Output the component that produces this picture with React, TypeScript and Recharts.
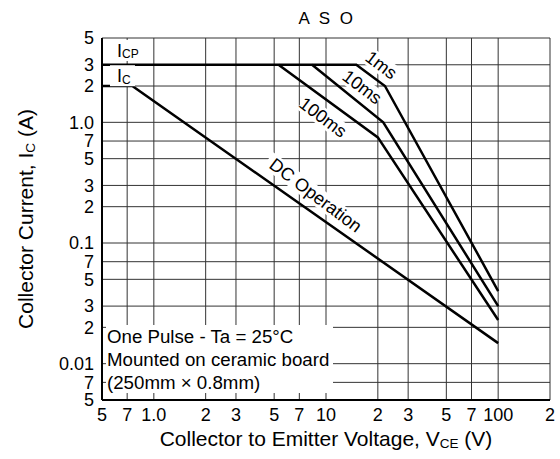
import React from 'react';
import { ComposedChart, Line, XAxis, YAxis, CartesianGrid, ReferenceDot, Label } from 'recharts';

const FONT = '"Liberation Sans", Arial, Helvetica, sans-serif';

// Axis ticks (log scales)
const xTicks = [0.5, 0.7, 1, 2, 3, 5, 7, 10, 20, 30, 50, 70, 100, 200];
const xTickLabels = ['5', '7', '1.0', '2', '3', '5', '7', '10', '2', '3', '5', '7', '100', '2'];
const yTicks = [0.005, 0.007, 0.01, 0.02, 0.03, 0.05, 0.07, 0.1, 0.2, 0.3, 0.5, 0.7, 1, 2, 3, 5];
const yTickLabels = ['5', '7', '0.01', '2', '3', '5', '7', '0.1', '2', '3', '5', '7', '1.0', '2', '3', '5'];

// Curves: V_CE (V) and I_C (A)
const pulse1msV = [0.5, 15, 22, 100];
const pulse1msI = [3, 3, 2.0, 0.04];
const pulse10msV = [8.3, 21.5, 100];
const pulse10msI = [3, 1.0, 0.03];
const pulse100msV = [5.3, 20, 100];
const pulse100msI = [3, 0.75, 0.023];
const dcV = [0.5, 0.75, 100];
const dcI = [2, 2, 0.0148];

// Curve annotations
const curveLabels = ['1ms', '10ms', '100ms', 'DC Operation'];
const curveLabelV = [20.9, 16.2, 9.6, 8.7];
const curveLabelI = [2.98, 1.96, 1.1, 0.248];

const limitLabelMain = ['I', 'I'];
const limitLabelSub = ['CP', 'C'];
const limitLabelV = [0.611, 0.611];
const limitLabelI = [3.48, 2.15];

const noteLines = ['One Pulse - Ta = 25°C', 'Mounted on ceramic board', '(250mm × 0.8mm)'];

const toData = (vs: number[], is: number[]) => vs.map((v, k) => ({ v, i: is[k] }));

const curves = [
  toData(pulse1msV, pulse1msI),
  toData(pulse10msV, pulse10msI),
  toData(pulse100msV, pulse100msI),
  toData(dcV, dcI),
];

const RotLabel = (props: any) => {
  const { cx, cy, text } = props;
  const w = text.length * 9.6 + 4;
  return (
    <g transform={`translate(${cx},${cy}) rotate(37)`}>
      <rect x={-w / 2} y={-9} width={w} height={18} fill="#fff" />
      <text x={0} y={0} textAnchor="middle" dominantBaseline="central" fontSize={18} fontFamily={FONT} fill="#000">
        {text}
      </text>
    </g>
  );
};

const SubLabel = (props: any) => {
  const { cx, cy, main, sub } = props;
  return (
    <g>
      <rect x={cx - 7} y={cy - 17} width={sub.length * 9 + 16} height={21} fill="#fff" />
      <text x={cx} y={cy} fontSize={18} fontFamily={FONT} fill="#000">
        {main}
        <tspan fontSize={12} dy={1.5}>{sub}</tspan>
      </text>
    </g>
  );
};

const XTitle = (props: any) => {
  const { x, y, width } = props.viewBox;
  return (
    <text x={x + width / 2} y={y + 46} textAnchor="middle" fontSize={21} fontFamily={FONT} fill="#000">
      Collector to Emitter Voltage, V
      <tspan fontSize={13.5} dy={2}>CE</tspan>
      <tspan dy={-2}> (V)</tspan>
    </text>
  );
};

const YTitle = (props: any) => {
  const { y, height } = props.viewBox;
  const cx = 33;
  const cy = y + height / 2;
  return (
    <text
      x={cx}
      y={cy}
      transform={`rotate(-90, ${cx}, ${cy})`}
      textAnchor="middle"
      fontSize={21}
      fontFamily={FONT}
      fill="#000"
    >
      Collector Current, I
      <tspan fontSize={13.5} dy={2}>C</tspan>
      <tspan dy={-2}> (A)</tspan>
    </text>
  );
};

export default function App() {
  return (
    <div style={{ position: 'absolute', left: 0, top: 0, width: 560, height: 459, background: '#fff', fontFamily: FONT }}>
      <ComposedChart width={560} height={459} margin={{ top: 38, right: 10, bottom: 0, left: 0 }}>
        <CartesianGrid stroke="#333" strokeWidth={1} fill="#fff" />
        <XAxis
          dataKey="v"
          type="number"
          scale="log"
          domain={[0.5, 200]}
          allowDataOverflow
          ticks={xTicks}
          interval={0}
          height={59}
          tickLine={false}
          tickSize={0}
          tickMargin={8}
          axisLine={{ stroke: '#000', strokeWidth: 2 }}
          tick={{ fontSize: 18, fill: '#000', fontFamily: FONT }}
          tickFormatter={(val: number) => xTickLabels[xTicks.indexOf(val)] ?? ''}
        >
          <Label content={<XTitle />} />
        </XAxis>
        <YAxis
          dataKey="i"
          type="number"
          scale="log"
          domain={[0.005, 5]}
          allowDataOverflow
          ticks={yTicks}
          interval={0}
          width={102}
          tickLine={false}
          tickSize={0}
          tickMargin={8}
          axisLine={{ stroke: '#000', strokeWidth: 2 }}
          tick={{ fontSize: 18, fill: '#000', fontFamily: FONT }}
          tickFormatter={(val: number) => yTickLabels[yTicks.indexOf(val)] ?? ''}
        >
          <Label content={<YTitle />} />
        </YAxis>
        {curveLabels.map((t, k) => (
          <ReferenceDot
            key={t}
            x={curveLabelV[k]}
            y={curveLabelI[k]}
            r={1}
            shape={(p: any) => <RotLabel cx={p.cx} cy={p.cy} text={t} />}
          />
        ))}
        {limitLabelMain.map((m, k) => (
          <ReferenceDot
            key={'lim' + k}
            x={limitLabelV[k]}
            y={limitLabelI[k]}
            r={1}
            shape={(p: any) => <SubLabel cx={p.cx} cy={p.cy} main={m} sub={limitLabelSub[k]} />}
          />
        ))}
        {curves.map((d, k) => (
          <Line
            key={k}
            data={d}
            dataKey="i"
            type="linear"
            stroke="#000"
            strokeWidth={2.5}
            dot={false}
            activeDot={false}
            isAnimationActive={false}
          />
        ))}
      </ComposedChart>
      <div
        style={{
          position: 'absolute',
          left: 106,
          top: 325,
          width: 226,
          height: 68,
          background: '#fff',
          fontSize: 18.7,
          lineHeight: '23px',
          color: '#000',
          paddingLeft: 1,
          whiteSpace: 'nowrap',
        }}
      >
        {noteLines.map((l) => (
          <div key={l}>{l}</div>
        ))}
      </div>
      <div
        style={{
          position: 'absolute',
          left: 102,
          top: 10,
          width: 450,
          textAlign: 'center',
          fontSize: 17,
          lineHeight: '17px',
          letterSpacing: 2.5,
          color: '#000',
        }}
      >
        A S O
      </div>
    </div>
  );
}
